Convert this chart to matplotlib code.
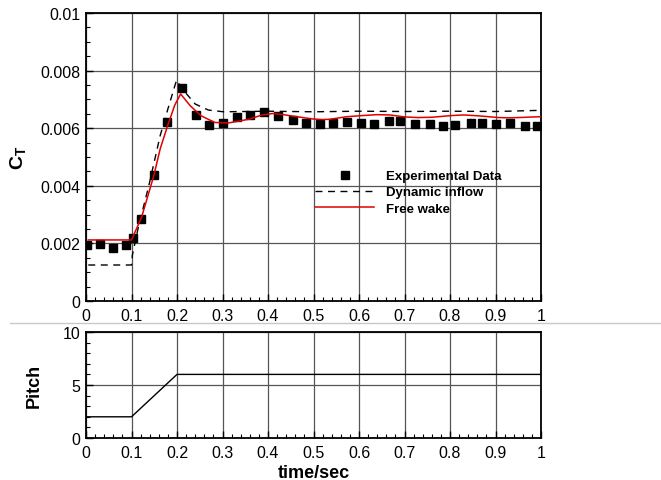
import numpy as np
import matplotlib
matplotlib.use("Agg")
import matplotlib.pyplot as plt
from matplotlib.ticker import MultipleLocator, FuncFormatter

plt.rcParams['font.family'] = ['Liberation Sans', 'DejaVu Sans']
plt.rcParams['mathtext.fontset'] = 'custom'
plt.rcParams['mathtext.rm'] = 'Liberation Sans'
plt.rcParams['mathtext.bf'] = 'Liberation Sans:bold'

# ---- data ----
exp_t = [0.003, 0.031, 0.06, 0.089, 0.103, 0.121, 0.149, 0.179, 0.212, 0.241, 0.27,
         0.302, 0.332, 0.36, 0.391, 0.423, 0.454, 0.484, 0.514, 0.543, 0.573, 0.604,
         0.633, 0.667, 0.69, 0.723, 0.756, 0.785, 0.812, 0.846, 0.871, 0.902, 0.932,
         0.965, 0.991]
exp_ct = [0.00194, 0.00198, 0.00184, 0.00196, 0.00219, 0.00285, 0.00437, 0.00623, 0.0074,
          0.00646, 0.00611, 0.00617, 0.0064, 0.00647, 0.00655, 0.00642, 0.0063, 0.00619,
          0.00616, 0.00617, 0.00623, 0.00617, 0.00615, 0.00626, 0.00626, 0.00615, 0.00615,
          0.00609, 0.00611, 0.00619, 0.00619, 0.00615, 0.00619, 0.00609, 0.00609]

di_t = [0.005, 0.1, 0.102, 0.115, 0.138, 0.163, 0.18, 0.199, 0.21, 0.221, 0.24, 0.269,
        0.302, 0.4, 0.5, 0.6, 0.7, 0.8, 0.9, 1.0]
di_ct = [0.00125, 0.00125, 0.0016, 0.00256, 0.004, 0.00574, 0.00667, 0.00767, 0.0074,
         0.00719, 0.00684, 0.00663, 0.00657, 0.00659, 0.00657, 0.00659, 0.00658, 0.00659,
         0.00658, 0.00662]

fw_t = [0.005, 0.1, 0.122, 0.149, 0.163, 0.179, 0.195, 0.208, 0.229, 0.253, 0.283, 0.312,
        0.341, 0.36, 0.385, 0.41, 0.434, 0.463, 0.499, 0.52, 0.536, 0.573, 0.609, 0.639,
        0.668, 0.701, 0.73, 0.76, 0.804, 0.83, 0.862, 0.906, 0.93, 0.95, 1.0]
fw_ct = [0.00212, 0.00212, 0.0029, 0.00435, 0.00528, 0.00607, 0.0068, 0.00719, 0.00678,
         0.00643, 0.0062, 0.00618, 0.00626, 0.00632, 0.00645, 0.00651, 0.00647, 0.0064,
         0.00632, 0.0063, 0.00631, 0.0064, 0.00644, 0.00647, 0.00646, 0.00639, 0.00637,
         0.00638, 0.00644, 0.00646, 0.00643, 0.00637, 0.00636, 0.00637, 0.0064]

pitch_t = [0.0, 0.1, 0.2, 1.0]
pitch_deg = [2, 2, 6, 6]

labels = ['Experimental Data', 'Dynamic inflow', 'Free wake']

W, H = 661, 481
fig = plt.figure(figsize=(W / 100, H / 100), dpi=100)

def ax_rect(l, t, r, b):
    return [l / W, 1 - b / H, (r - l) / W, (b - t) / H]

ax1 = fig.add_axes(ax_rect(86, 14, 541, 302))
ax2 = fig.add_axes(ax_rect(86, 333, 541, 439))

fmt = FuncFormatter(lambda v, p: '%g' % round(v, 6))

for ax in (ax1, ax2):
    ax.set_xlim(0, 1)
    ax.xaxis.set_major_locator(MultipleLocator(0.1))
    ax.xaxis.set_minor_locator(MultipleLocator(0.02))
    ax.xaxis.set_major_formatter(fmt)
    ax.yaxis.set_major_formatter(fmt)
    ax.grid(True, which='major', color='#555555', linewidth=0.9)
    ax.set_axisbelow(True)
    ax.tick_params(which='both', direction='in', top=False, right=False,
                   labelsize=11.5, colors='black')
    ax.tick_params(axis='x', which='major', pad=5)
    ax.tick_params(axis='y', which='major', pad=4)
    ax.tick_params(which='major', length=5, width=1)
    ax.tick_params(which='minor', length=3, width=0.8)
    for s in ax.spines.values():
        s.set_linewidth(1.3)
        s.set_color('black')

ax1.set_ylim(0, 0.01)
ax1.yaxis.set_major_locator(MultipleLocator(0.002))
ax1.yaxis.set_minor_locator(MultipleLocator(0.0005))

ax2.set_ylim(0, 10)
ax2.yaxis.set_major_locator(MultipleLocator(5))
ax2.yaxis.set_minor_locator(MultipleLocator(1))

ax1.plot(exp_t, exp_ct, linestyle='none', marker='s', markersize=5.2, color='black',
         label=labels[0], zorder=3)
ax1.plot(di_t, di_ct, color='black', linewidth=1.0, dashes=(5, 4), label=labels[1], zorder=3)
ax1.plot(fw_t, fw_ct, color='#e00000', linewidth=1.1, label=labels[2], zorder=4)

ax2.plot(pitch_t, pitch_deg, color='black', linewidth=1.0)

ax1.set_ylabel(r'C$_{\mathregular{T}}$', fontsize=14, fontweight='bold', labelpad=8)
ax2.set_ylabel('Pitch', fontsize=13, fontweight='bold', labelpad=14)
ax2.set_xlabel('time/sec', fontsize=13, fontweight='bold', labelpad=3)

leg = ax1.legend(loc='upper left', bbox_to_anchor=(315 / W, 1 - 171 / H),
                 bbox_transform=fig.transFigure, frameon=False, numpoints=1,
                 handlelength=4.5, handletextpad=0.9, labelspacing=0.3,
                 borderpad=0, borderaxespad=0,
                 prop={'weight': 'bold', 'size': 9.5})

fig.add_artist(plt.Line2D([10 / W, 1.0], [1 - 324 / H, 1 - 324 / H],
                          transform=fig.transFigure, color='#c8c8c8', linewidth=1))

fig.savefig('out.png', dpi=100)
